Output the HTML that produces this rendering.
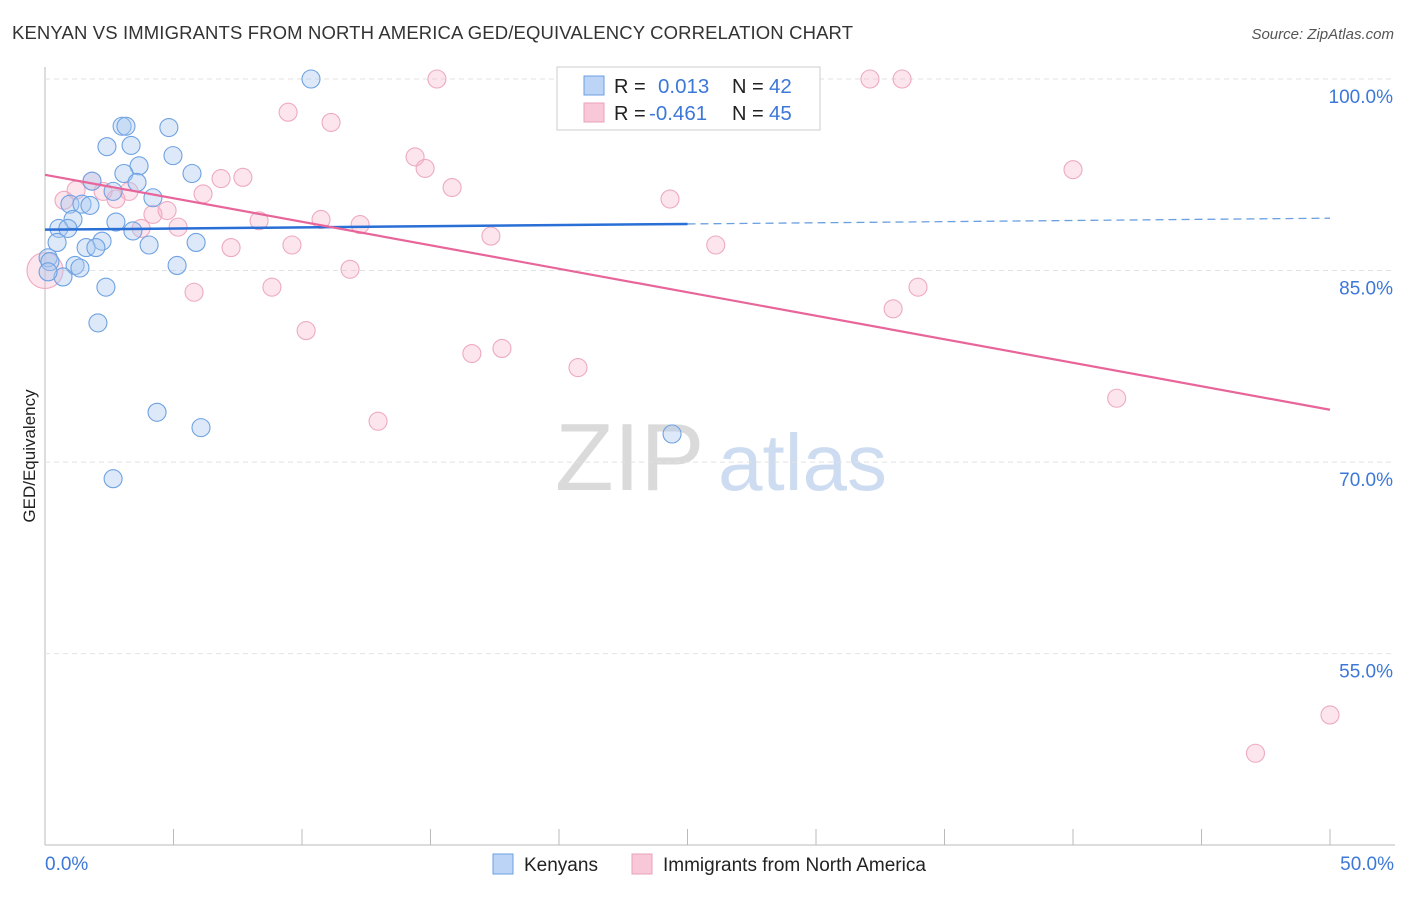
<!DOCTYPE html>
<html><head><meta charset="utf-8"><style>
body{margin:0;background:#fff;font-family:"Liberation Sans",sans-serif;}
svg text{font-family:"Liberation Sans",sans-serif;}
</style></head><body>
<svg id="c" width="1406" height="892">
<text x="12" y="39" font-size="18.5" fill="#333" textLength="841">KENYAN VS IMMIGRANTS FROM NORTH AMERICA GED/EQUIVALENCY CORRELATION CHART</text>
<text x="1394" y="39" font-size="15" fill="#555" font-style="italic" text-anchor="end">Source: ZipAtlas.com</text>
<text x="35" y="456" font-size="17" fill="#222" transform="rotate(-90 35 456)" text-anchor="middle">GED/Equivalency</text>
<text x="555" y="490" font-size="96" fill="#dadada" font-family="Liberation Serif">ZIP</text>
<text x="718" y="490" font-size="80" fill="#cddcf0">atlas</text>
<g id="grid"></g><g id="pts"></g><g id="trend"></g>
<g>
<rect x="557" y="67" width="263" height="63" fill="#fff" stroke="#ccc"/>
<rect x="584" y="76" width="20" height="19" fill="#bcd4f6" stroke="#6a9fe0"/>
<rect x="584" y="103" width="20" height="19" fill="#f9c8d8" stroke="#eaa0b8"/>
<text x="614" y="93" font-size="20" fill="#222">R =</text><text x="658" y="93" font-size="20.5" fill="#3c78d8">0.013</text>
<text x="732" y="93" font-size="20" fill="#222">N =</text><text x="769" y="93" font-size="20.5" fill="#3c78d8">42</text>
<text x="614" y="120" font-size="20" fill="#222">R =</text><text x="649" y="120" font-size="20.5" fill="#3c78d8">-0.461</text>
<text x="732" y="120" font-size="20" fill="#222">N =</text><text x="769" y="120" font-size="20.5" fill="#3c78d8">45</text>
</g>
<g>
<rect x="493" y="854" width="20" height="20" fill="#bcd4f6" stroke="#6a9fe0"/>
<text x="524" y="871" font-size="19" fill="#222">Kenyans</text>
<rect x="632" y="854" width="20" height="20" fill="#f9c8d8" stroke="#eaa0b8"/>
<text x="663" y="871" font-size="19" fill="#222">Immigrants from North America</text>
</g>
</svg>
<script>
const blueX=[10.35,3.0,3.15,4.82,2.41,3.35,4.98,3.66,3.07,5.72,1.83,3.58,2.65,4.2,0.97,1.44,1.75,1.09,2.76,0.54,0.89,3.42,0.47,2.22,1.6,1.98,4.05,5.88,1.17,1.36,5.14,0.12,0.19,0.7,2.37,2.06,4.36,6.07,24.4,2.65,24.9,0.12];
const blueY=[100,96.3,96.3,96.2,94.7,94.8,94.0,93.2,92.6,92.6,92.0,91.9,91.2,90.7,90.2,90.2,90.1,89.0,88.8,88.3,88.3,88.1,87.2,87.3,86.8,86.8,87.0,87.2,85.4,85.2,85.4,86.0,85.7,84.5,83.7,80.9,73.9,72.7,72.2,68.7,100,84.9];
const pinkX=[15.25,32.1,33.35,9.46,11.13,14.4,14.79,40.0,1.83,7.7,6.85,15.84,1.21,0.74,2.26,3.27,6.15,2.76,24.32,4.75,4.2,10.74,8.33,5.18,3.74,12.26,17.35,7.24,9.61,26.1,11.87,0,8.83,5.8,33.97,33.0,10.16,16.61,17.78,20.74,12.96,41.7,50,47.1,28.7];
const pinkY=[100,100,100,97.4,96.6,93.9,93.0,92.9,92.0,92.3,92.2,91.5,91.3,90.5,91.2,91.2,91.0,90.6,90.6,89.7,89.4,89.0,88.9,88.4,88.3,88.6,87.7,86.8,87.0,87.0,85.1,85.0,83.7,83.3,83.7,82.0,80.3,78.5,78.9,77.4,73.2,75.0,50.2,47.2,100];
const blueTrend=[88.2,89.1];
const pinkTrend=[92.5,74.1];
const yTicks=[100,85,70,55];
const xTicks=[0,5,10,15,20,25,30,35,40,45,50];
const NS="http://www.w3.org/2000/svg";
const X=v=>45+v*25.7, Y=v=>79+(100-v)*12.77;
function mk(t,a,p){const e=document.createElementNS(NS,t);for(const k in a)e.setAttribute(k,a[k]);p.appendChild(e);return e;}
const grid=document.getElementById('grid');
const ax=mk('line',{x1:45,y1:67,x2:45,y2:845,stroke:'#bbb'},grid);


const bx=mk('line',{x1:45,y1:845,x2:1395,y2:845,stroke:'#bbb'},grid);


yTicks.forEach(v=>{
 const l=mk('line',{x1:45,y1:Y(v),x2:1395,y2:Y(v),stroke:'#e2e2e2','stroke-dasharray':'5,4'},grid);
 
 
 const t=mk('text',{x:1393,y:Y(v)+24,'font-size':19,fill:'#3c78d8','text-anchor':'end'},grid);
 t.textContent=v.toFixed(1)+'%';
 
 
});
xTicks.forEach(v=>{
 const l=mk('line',{x1:X(v),y1:829,x2:X(v),y2:845,stroke:'#bbb'},grid);
 
 
});
[[0,'0.0%','start',45],[50,'50.0%','end',1394]].forEach(d=>{
 const t=mk('text',{x:d[3],y:870,'font-size':19,fill:'#3c78d8','text-anchor':d[2]},grid);
 t.textContent=d[1];
 
 
});
const pts=document.getElementById('pts');
pinkX.forEach((x,i)=>{
 const c=mk('circle',{cx:X(x),cy:Y(pinkY[i]),r:(x===0?18:9),fill:'rgba(246,175,200,0.32)',stroke:'#eeaac0','stroke-width':1.1},pts);
 
 
});
blueX.forEach((x,i)=>{
 const c=mk('circle',{cx:X(x),cy:Y(blueY[i]),r:9,fill:'rgba(170,200,240,0.4)',stroke:'#6ea2e2','stroke-width':1.1},pts);
 
 
});
const tr=document.getElementById('trend');
const bAt=x=>blueTrend[0]+(blueTrend[1]-blueTrend[0])*x/50;
const b1=mk('line',{x1:X(0),y1:Y(bAt(0)),x2:X(25),y2:Y(bAt(25)),stroke:'#2a6fd6','stroke-width':2.5},tr);


const b2=mk('line',{x1:X(25),y1:Y(bAt(25)),x2:X(50),y2:Y(bAt(50)),stroke:'#6a9fe0','stroke-width':1.3,'stroke-dasharray':'8,5'},tr);


const p1=mk('line',{x1:X(0),y1:Y(pinkTrend[0]),x2:X(50),y2:Y(pinkTrend[1]),stroke:'#e8659a','stroke-width':2.2},tr);


</script>
</body></html>
